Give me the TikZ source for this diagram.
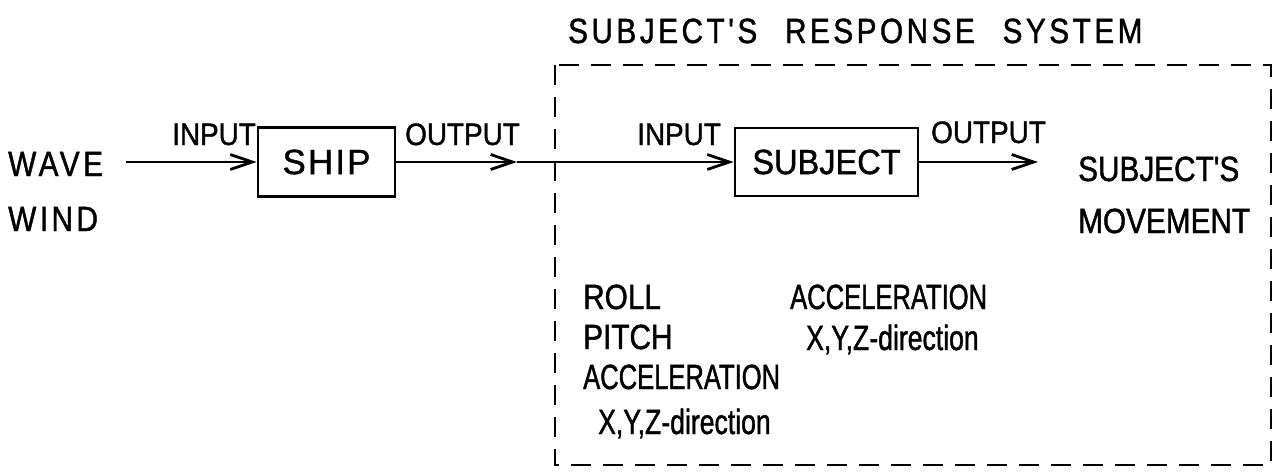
\documentclass[tikz,border=0pt]{standalone}
\usepackage{fontspec}
\setmainfont{Liberation Sans}
\newfontfamily\bodyfont{Liberation Sans}[FakeStretch=0.85,FakeBold=1.2]
\newfontfamily\widefont{Liberation Sans}[FakeStretch=0.85,LetterSpace=10,FakeBold=1.2]
\newfontfamily\accfont{Liberation Sans}[FakeStretch=0.73,FakeBold=1.2]
\newfontfamily\dirfont{Liberation Sans}[FakeStretch=0.76,FakeBold=1.2]
\newfontfamily\iofont{Liberation Sans}[FakeStretch=0.9,FakeBold=1.2]
\newfontfamily\shipfont{Liberation Sans}[LetterSpace=6,FakeBold=1.2]
\newfontfamily\subjfont{Liberation Sans}[FakeStretch=0.93,FakeBold=1.2]
\newfontfamily\titlefont{Liberation Sans}[FakeStretch=0.85,LetterSpace=10,FakeBold=1.2]
\usetikzlibrary{arrows.meta}
\begin{document}
\begin{tikzpicture}[x=1pt,y=-1pt,
  lbl/.style={anchor=base west, inner sep=0pt, font=\bodyfont\fontsize{35}{37}\selectfont},
  wlbl/.style={anchor=base west, inner sep=0pt, font=\widefont\fontsize{35}{37}\selectfont},
  albl/.style={anchor=base west, inner sep=0pt, font=\accfont\fontsize{35}{37}\selectfont},
  dlbl/.style={anchor=base west, inner sep=0pt, font=\dirfont\fontsize{35}{37}\selectfont},
  io/.style={anchor=base west, inner sep=0pt, font=\iofont\fontsize{31}{33}\selectfont},
  ttl/.style={anchor=base west, inner sep=0pt, font=\titlefont\fontsize{35}{37}\selectfont},
  blk/.style={draw, line width=2.8pt, inner sep=0pt},
  flow/.style={line width=2.8pt, -{Straight Barb[length=22pt,width=15pt,line width=2.8pt]}},
  frame/.style={line width=2.8pt, dash pattern=on 20pt off 12pt}]
\useasboundingbox (0,0) rectangle (1287,472);

% blocks
\node[blk, minimum width=137pt, minimum height=69pt, font=\shipfont\fontsize{35}{37}\selectfont] (ship) at (326.5,162) {SHIP};
\node[blk, minimum width=183pt, minimum height=68pt, font=\subjfont\fontsize{35}{37}\selectfont] (subj) at (826.5,162) {SUBJECT};

% frame
\draw[frame] (555,65) rectangle (1271,465);
\node[ttl] (title) at (568,43) {SUBJECT'S\hspace{16pt} RESPONSE\hspace{16pt} SYSTEM};

% inputs / outputs
\node[wlbl] (wave) at (8,176) {WAVE};
\node[wlbl] (wind) at (8,231) {WIND};
\node[io] (in1) at (172,145) {INPUT};
\node[io] (out1) at (405,145) {OUTPUT};
\node[io] (in2) at (637,145) {INPUT};
\node[io] (out2) at (931,143) {OUTPUT};
\node[lbl] (mov1) at (1078,181) {SUBJECT'S};
\node[lbl] (mov2) at (1078,233) {MOVEMENT};

% connectors
\coordinate (win) at (126,162);
\coordinate (mid) at (517,162);
\coordinate (wout) at (1038,162);
\draw[flow] (win) -- (ship.west);
\draw[flow] (ship.east) -- (mid);
\draw[flow] (mid) -- (subj.west);
\draw[flow] (subj.east) -- (wout);

% measured quantities
\node[lbl] (roll) at (583,309) {ROLL};
\node[lbl] (pitch) at (583,349) {PITCH};
\node[albl] (acc1) at (583,389) {ACCELERATION};
\node[dlbl] (dir1) at (598,434) {X,Y,Z-direction};
\node[albl] (acc2) at (790,309) {ACCELERATION};
\node[dlbl] (dir2) at (806,350) {X,Y,Z-direction};
\end{tikzpicture}
\end{document}
